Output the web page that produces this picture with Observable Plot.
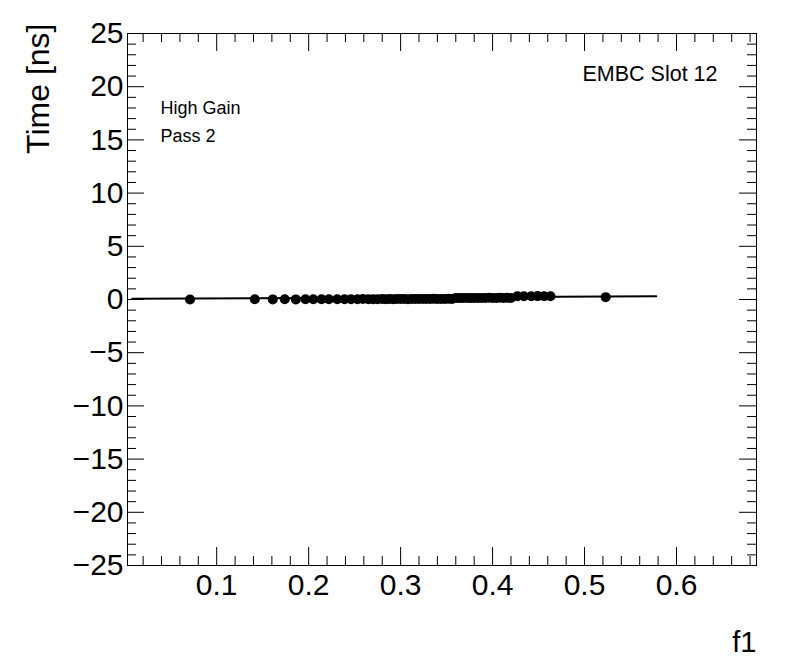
<!DOCTYPE html>
<html><head><meta charset="utf-8">
<script src="https://cdn.jsdelivr.net/npm/d3@7"></script>
<script src="https://cdn.jsdelivr.net/npm/@observablehq/plot@0.6"></script>
<style>
body{margin:0;background:#fff}
#chart svg{font-family:"Liberation Sans",Arial,Helvetica,sans-serif;overflow:visible}
</style>
</head><body><div id="chart"></div><script>
// ---- data ----
const f1Values = [
  0.071, 0.1415, 0.161, 0.174, 0.186, 0.1965, 0.205, 0.214, 0.222, 0.231,
  0.239, 0.246, 0.253, 0.259, 0.265, 0.270, 0.275, 0.280, 0.284, 0.288,
  0.292, 0.296, 0.300, 0.304, 0.308, 0.312, 0.316, 0.320, 0.324, 0.328,
  0.332, 0.336, 0.340, 0.344, 0.348, 0.352, 0.356,
  0.360, 0.364, 0.368, 0.372, 0.376, 0.380, 0.384, 0.388, 0.392, 0.396,
  0.400, 0.404, 0.408, 0.412, 0.416, 0.420,
  0.427, 0.434, 0.442, 0.449, 0.456, 0.463, 0.523
];
const timeValues = [
  0.00, 0.02, 0.01, 0.02, 0.01, 0.02, 0.03, 0.02, 0.03, 0.02,
  0.03, 0.02, 0.03, 0.04, 0.03, 0.02, 0.03, 0.04, 0.03, 0.04,
  0.03, 0.04, 0.05, 0.04, 0.03, 0.04, 0.05, 0.04, 0.05, 0.04,
  0.05, 0.06, 0.05, 0.04, 0.05, 0.06, 0.05,
  0.14, 0.13, 0.15, 0.14, 0.13, 0.15, 0.14, 0.15, 0.14, 0.16,
  0.15, 0.14, 0.16, 0.15, 0.16, 0.15,
  0.30, 0.31, 0.30, 0.32, 0.31, 0.30, 0.22
];
const fitF1 = [0.008, 0.578];
const fitTime = [0.07, 0.31];

const xDomain = [0.003, 0.687];
const yDomain = [-25, 25];
const xMajorTicks = [0.1, 0.2, 0.3, 0.4, 0.5, 0.6];
const yMajorTicks = [-25, -20, -15, -10, -5, 0, 5, 10, 15, 20, 25];
const xMinorTicks = d3.range(0.02, 0.687, 0.02).filter(v => Math.abs(v*10 - Math.round(v*10)) > 1e-6);
const yMinorTicks = d3.range(-24, 25, 1).filter(v => v % 5 !== 0);

const points = f1Values.map((x, i) => ({x, y: timeValues[i]}));
const fit = fitF1.map((x, i) => ({x, y: fitTime[i]}));

// ---- layout ----
const W = 796, H = 672;
const mL = 127, mR = 40, mT = 33, mB = 107;
const fw = W - mL - mR, fh = H - mT - mB;
const majY = 17, minY = 9, majX = 18, minX = 9;

const fmtY = d => d < 0 ? "\u2212" + Math.abs(d) : String(d);

const chart = Plot.plot({
  width: W, height: H,
  marginLeft: mL, marginRight: mR, marginTop: mT, marginBottom: mB,
  x: {domain: xDomain, axis: null},
  y: {domain: yDomain, axis: null},
  marks: [
    Plot.frame({stroke: "black", strokeWidth: 1}),
    Plot.tickY(yMajorTicks, {y: d => d, insetRight: fw - majY, stroke: "black"}),
    Plot.tickY(yMinorTicks, {y: d => d, insetRight: fw - minY, stroke: "black"}),
    Plot.tickY(yMajorTicks, {y: d => d, insetLeft: fw - majY, stroke: "black"}),
    Plot.tickY(yMinorTicks, {y: d => d, insetLeft: fw - minY, stroke: "black"}),
    Plot.tickX(xMajorTicks, {x: d => d, insetTop: fh - majX, stroke: "black"}),
    Plot.tickX(xMinorTicks, {x: d => d, insetTop: fh - minX, stroke: "black"}),
    Plot.tickX(xMajorTicks, {x: d => d, insetBottom: fh - majX, stroke: "black"}),
    Plot.tickX(xMinorTicks, {x: d => d, insetBottom: fh - minX, stroke: "black"}),
    Plot.axisX({ticks: xMajorTicks, tickSize: 0, tickPadding: 8, fontSize: 30, label: null,
      tickFormat: d => d.toFixed(1), fill: "black"}),
    Plot.axisY({ticks: yMajorTicks, tickSize: 0, tickPadding: 4, fontSize: 30, label: null,
      tickFormat: fmtY, fill: "black"}),
    Plot.dot(points, {x: "x", y: "y", r: 5, fill: "black", stroke: "none"}),
    Plot.line(fit, {x: "x", y: "y", stroke: "black", strokeWidth: 2}),
    Plot.text(["Time [ns]"], {frameAnchor: "top-left", rotate: -90, textAnchor: "end",
      lineAnchor: "middle", dx: -89, dy: -10, fontSize: 32, fill: "black"}),
    Plot.text(["f1"], {frameAnchor: "bottom-right", textAnchor: "end", lineAnchor: "bottom",
      dx: 0, dy: 86, fontSize: 29, fill: "black"}),
    Plot.text(["EMBC Slot 12"], {frameAnchor: "top-left", textAnchor: "start", lineAnchor: "bottom",
      dx: 455, dy: 47, fontSize: 21.5, fill: "black"}),
    Plot.text(["High Gain"], {frameAnchor: "top-left", textAnchor: "start", lineAnchor: "bottom",
      dx: 33, dy: 80, fontSize: 18, fill: "black"}),
    Plot.text(["Pass 2"], {frameAnchor: "top-left", textAnchor: "start", lineAnchor: "bottom",
      dx: 33, dy: 108, fontSize: 18, fill: "black"})
  ]
});
document.getElementById("chart").append(chart);
</script></body></html>
